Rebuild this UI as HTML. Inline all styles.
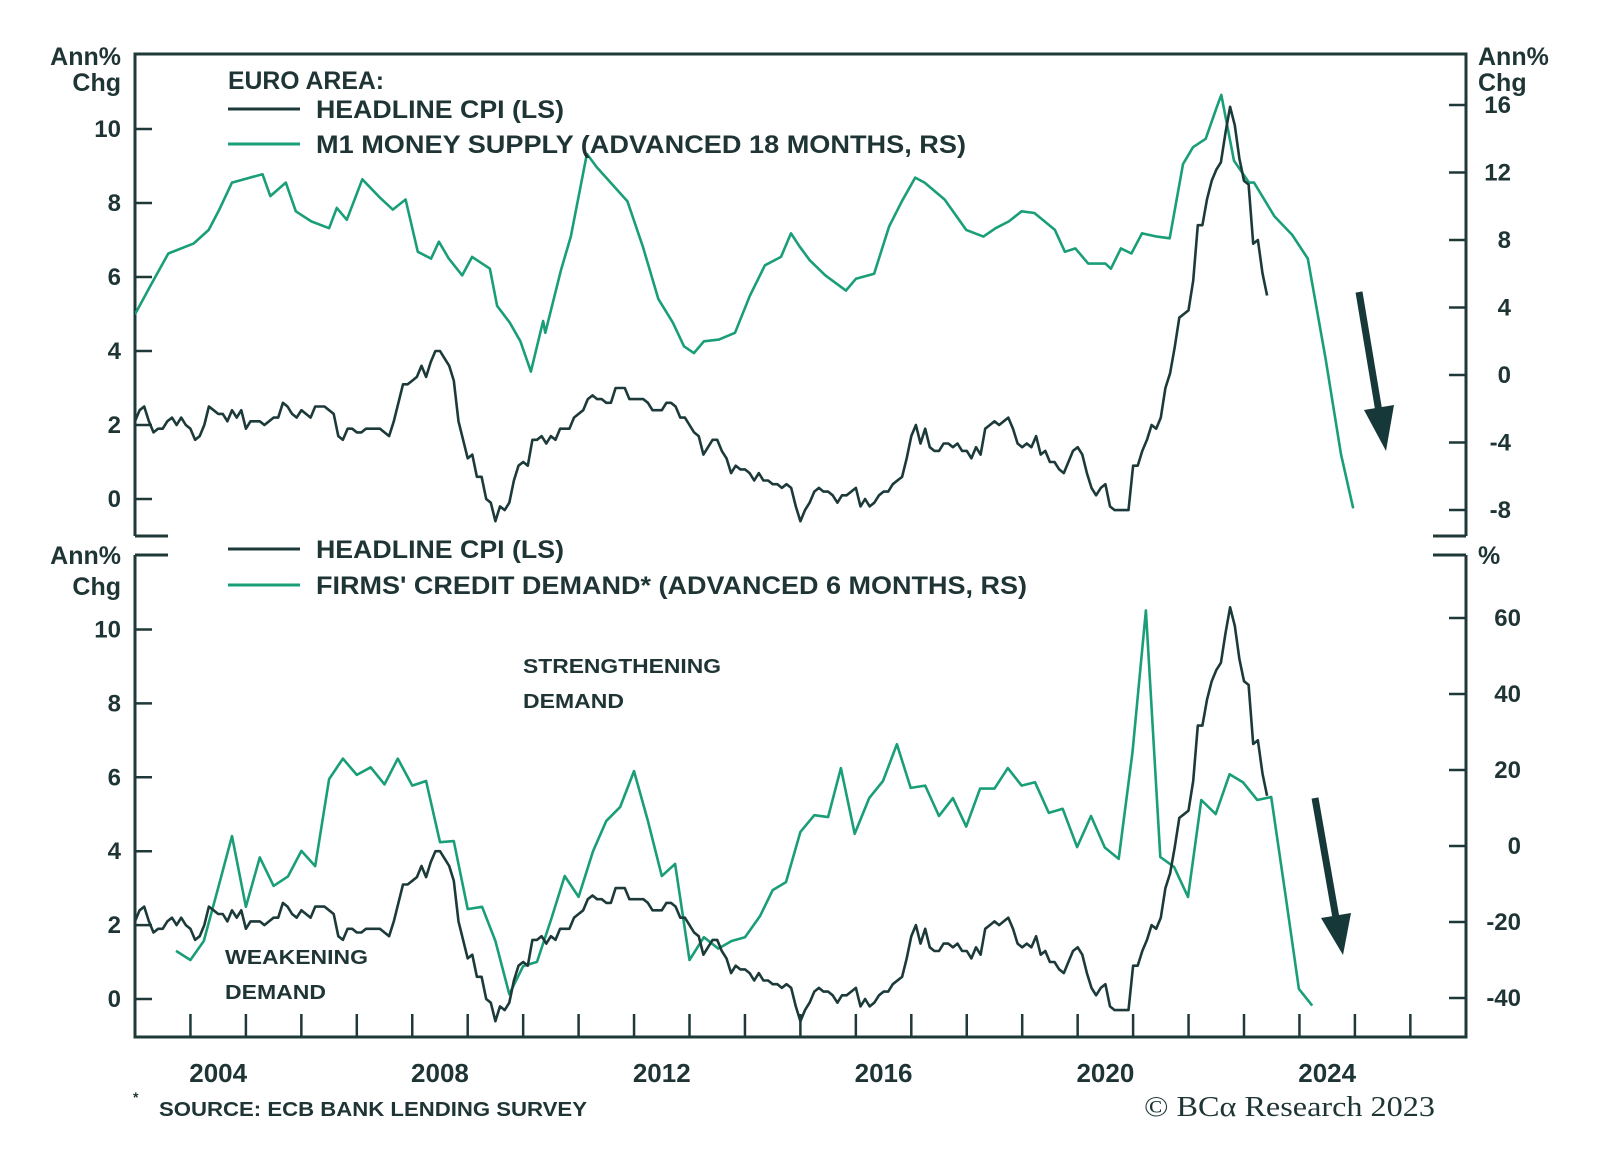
<!DOCTYPE html>
<html><head><meta charset="utf-8"><style>
html,body{margin:0;padding:0;background:#fff;}
svg{display:block;font-family:"Liberation Sans",sans-serif;}
</style></head><body>
<svg id="chart" width="1600" height="1163" viewBox="0 0 1600 1163">
<defs>
<clipPath id="clipTop"><rect x="135" y="54" width="1331" height="482"/></clipPath>
<clipPath id="clipBot"><rect x="135" y="555" width="1331" height="482"/></clipPath>
</defs>
<g id="axes" stroke="#1f3838" stroke-width="3" fill="none">
<polyline points="135,536 135,54 1466,54 1466,536"/>
<line x1="135" y1="536" x2="168" y2="536"/>
<line x1="1433" y1="536" x2="1466" y2="536"/>
<polyline points="135,555 135,1037 1466,1037 1466,555"/>
<line x1="135" y1="555" x2="168" y2="555"/>
<line x1="1433" y1="555" x2="1466" y2="555"/>
</g>
<g id="ticks" stroke="#1f3838" stroke-width="2.5"></g>
<g id="labels" fill="#1f3535" font-weight="bold"></g>
<g id="series"></g>
<g fill="#1f3535" font-weight="bold">
<text x="121" y="65" font-size="25" text-anchor="end">Ann%</text>
<text x="121" y="91" font-size="25" text-anchor="end">Chg</text>
<text x="1478" y="65" font-size="25">Ann%</text>
<text x="1478" y="91" font-size="25">Chg</text>
<text x="121" y="564" font-size="25" text-anchor="end">Ann%</text>
<text x="121" y="595" font-size="25" text-anchor="end">Chg</text>
<text x="1478" y="564" font-size="25">%</text>
<text x="228" y="89" font-size="25" textLength="156" lengthAdjust="spacingAndGlyphs">EURO AREA:</text>
<line x1="228" y1="109" x2="300" y2="109" stroke="#1c3a3a" stroke-width="3"/>
<text x="316" y="118" font-size="25" textLength="248" lengthAdjust="spacingAndGlyphs">HEADLINE CPI (LS)</text>
<line x1="228" y1="144" x2="300" y2="144" stroke="#1a9e78" stroke-width="3"/>
<text x="316" y="153" font-size="25" textLength="650" lengthAdjust="spacingAndGlyphs">M1 MONEY SUPPLY (ADVANCED 18 MONTHS, RS)</text>
<line x1="228" y1="549" x2="300" y2="549" stroke="#1c3a3a" stroke-width="3"/>
<text x="316" y="558" font-size="25" textLength="248" lengthAdjust="spacingAndGlyphs">HEADLINE CPI (LS)</text>
<line x1="228" y1="585" x2="300" y2="585" stroke="#1a9e78" stroke-width="3"/>
<text x="316" y="594" font-size="25" textLength="711" lengthAdjust="spacingAndGlyphs">FIRMS' CREDIT DEMAND* (ADVANCED 6 MONTHS, RS)</text>
<text x="523" y="673" font-size="20" textLength="198" lengthAdjust="spacingAndGlyphs">STRENGTHENING</text>
<text x="523" y="708" font-size="20" textLength="101" lengthAdjust="spacingAndGlyphs">DEMAND</text>
<text x="225" y="964" font-size="20" textLength="143" lengthAdjust="spacingAndGlyphs">WEAKENING</text>
<text x="225" y="999" font-size="20" textLength="101" lengthAdjust="spacingAndGlyphs">DEMAND</text>
<text x="133" y="1102" font-size="14">*</text>
<text x="159" y="1116" font-size="20" textLength="428" lengthAdjust="spacingAndGlyphs">SOURCE: ECB BANK LENDING SURVEY</text>
</g>
<text x="1144" y="1116" font-size="29" font-family="Liberation Serif, serif" fill="#1f3535" textLength="291" lengthAdjust="spacingAndGlyphs">© BCα Research 2023</text>
<g fill="#173838" stroke="#173838">
<line x1="1359" y1="292" x2="1379" y2="412" stroke-width="7"/>
<polygon points="1364,410 1394,405 1386,451" stroke="none"/>
<line x1="1315" y1="798" x2="1336" y2="918" stroke-width="7"/>
<polygon points="1321,918 1351,913 1343,955" stroke="none"/>
</g>
</svg>
<script>
const cpiStartYear = 2003;
const cpiValues = [
2.1,2.4,2.5,2.1,1.8,1.9,1.9,2.1,2.2,2.0,2.2,2.0,
1.9,1.6,1.7,2.0,2.5,2.4,2.3,2.3,2.1,2.4,2.2,2.4,
1.9,2.1,2.1,2.1,2.0,2.1,2.2,2.2,2.6,2.5,2.3,2.2,
2.4,2.3,2.2,2.5,2.5,2.5,2.4,2.3,1.7,1.6,1.9,1.9,
1.8,1.8,1.9,1.9,1.9,1.9,1.8,1.7,2.1,2.6,3.1,3.1,
3.2,3.3,3.6,3.3,3.7,4.0,4.0,3.8,3.6,3.2,2.1,1.6,
1.1,1.2,0.6,0.6,0.0,-0.1,-0.6,-0.2,-0.3,-0.1,0.5,0.9,
1.0,0.9,1.6,1.6,1.7,1.5,1.7,1.6,1.9,1.9,1.9,2.2,
2.3,2.4,2.7,2.8,2.7,2.7,2.6,2.6,3.0,3.0,3.0,2.7,
2.7,2.7,2.7,2.6,2.4,2.4,2.4,2.6,2.6,2.5,2.2,2.2,
2.0,1.8,1.7,1.2,1.4,1.6,1.6,1.3,1.1,0.7,0.9,0.8,
0.8,0.7,0.5,0.7,0.5,0.5,0.4,0.4,0.3,0.4,0.3,-0.2,
-0.6,-0.3,-0.1,0.2,0.3,0.2,0.2,0.1,-0.1,0.1,0.1,0.2,
0.3,-0.2,0.0,-0.2,-0.1,0.1,0.2,0.2,0.4,0.5,0.6,1.1,
1.7,2.0,1.5,1.9,1.4,1.3,1.3,1.5,1.5,1.4,1.5,1.3,
1.3,1.1,1.4,1.2,1.9,2.0,2.1,2.0,2.1,2.2,1.9,1.5,
1.4,1.5,1.4,1.7,1.2,1.3,1.0,1.0,0.8,0.7,1.0,1.3,
1.4,1.2,0.7,0.3,0.1,0.3,0.4,-0.2,-0.3,-0.3,-0.3,-0.3,
0.9,0.9,1.3,1.6,2.0,1.9,2.2,3.0,3.4,4.1,4.9,5.0,
5.1,5.9,7.4,7.4,8.1,8.6,8.9,9.1,9.9,10.6,10.1,9.2,
8.6,8.5,6.9,7.0,6.1,5.5];
const m1Dates = [2003.0,2003.28,2003.6,2004.06,2004.33,2004.52,2004.75,2005.3,2005.44,2005.72,2005.9,2006.18,2006.5,2006.64,2006.82,2007.1,2007.42,2007.65,2007.88,2008.1,2008.34,2008.48,2008.66,2008.9,2009.08,2009.4,2009.53,2009.76,2009.95,2010.14,2010.36,2010.4,2010.68,2010.86,2011.15,2011.33,2011.88,2012.16,2012.44,2012.7,2012.9,2013.08,2013.26,2013.53,2013.82,2014.09,2014.36,2014.65,2014.83,2014.99,2015.17,2015.45,2015.82,2016.0,2016.33,2016.6,2016.83,2017.07,2017.24,2017.6,2017.99,2018.3,2018.52,2018.76,2018.99,2019.22,2019.59,2019.77,2019.96,2020.19,2020.5,2020.6,2020.78,2020.97,2021.16,2021.43,2021.66,2021.9,2022.08,2022.31,2022.5,2022.59,2022.82,2023.09,2023.18,2023.55,2023.87,2024.15,2024.47,2024.75,2024.97];
const m1Values = [3.6,5.3,7.2,7.8,8.6,9.8,11.4,11.9,10.6,11.4,9.7,9.1,8.7,9.9,9.2,11.6,10.5,9.8,10.4,7.3,6.9,7.9,6.9,5.9,7.0,6.3,4.1,3.1,2.0,0.2,3.2,2.5,6.2,8.2,13.1,12.3,10.3,7.6,4.5,3.1,1.7,1.3,2.0,2.1,2.5,4.7,6.5,7.0,8.4,7.6,6.8,5.9,5.0,5.7,6.0,8.8,10.3,11.7,11.4,10.4,8.6,8.2,8.7,9.1,9.7,9.6,8.6,7.3,7.5,6.6,6.6,6.3,7.5,7.2,8.4,8.2,8.1,12.5,13.5,14.0,15.8,16.6,12.7,11.4,11.4,9.4,8.3,6.9,1.0,-4.7,-7.9];
const creditDates = [2003.74,2004.0,2004.24,2004.5,2004.75,2005.0,2005.25,2005.5,2005.76,2006.0,2006.25,2006.5,2006.75,2007.0,2007.25,2007.5,2007.74,2008.0,2008.25,2008.5,2008.75,2009.0,2009.26,2009.5,2009.75,2010.0,2010.25,2010.5,2010.75,2011.0,2011.26,2011.5,2011.75,2012.0,2012.25,2012.5,2012.74,2013.0,2013.26,2013.52,2013.76,2014.0,2014.27,2014.5,2014.74,2015.0,2015.25,2015.5,2015.73,2015.98,2016.24,2016.49,2016.74,2016.99,2017.25,2017.5,2017.75,2017.99,2018.24,2018.5,2018.74,2018.99,2019.23,2019.48,2019.73,2019.99,2020.24,2020.49,2020.74,2020.99,2021.23,2021.49,2021.74,2021.99,2022.23,2022.49,2022.74,2022.98,2023.24,2023.49,2023.74,2023.99,2024.23];
const creditValues = [-27.6,-30,-25,-11,2.6,-16,-3,-10.5,-8,-1.3,-5.3,17.6,23,18.7,20.7,16.2,23,15.9,17.1,1.0,1.3,-16.6,-16,-25,-39,-31.6,-30.5,-19.5,-7.9,-13.4,-1.4,6.6,10.3,19.7,6.6,-7.9,-4.7,-30,-24,-27,-25,-24,-18.5,-11.6,-9.5,3.7,8.1,7.6,20.5,3.2,12.6,17.1,26.8,15.3,15.9,7.9,12.6,5.1,15.1,15.1,20.5,15.9,16.8,8.7,9.8,-0.3,7.9,-0.4,-3.4,24.7,62,-2.9,-5.5,-13.4,12.1,8.4,18.9,16.8,12.1,12.9,-12,-37.6,-42];
const leftTicks = [0,2,4,6,8,10];
const topRightTicks = [16,12,8,4,0,-4,-8];
const botRightTicks = [60,40,20,0,-20,-40];
const yearTicks = [2004,2005,2006,2007,2008,2009,2010,2011,2012,2013,2014,2015,2016,2017,2018,2019,2020,2021,2022,2023,2024,2025,2026];
const yearLabels = [2004,2008,2012,2016,2020,2024];

const NS = 'http://www.w3.org/2000/svg';
const xT = t => 135 + (t - 2003) * 55.45;
const yLTop = v => 499 - v * 37;
const yLBot = v => 999 - v * 36.95;
const yRTop = v => 375 - v * 16.875;
const yRBot = v => 846 - v * 3.8;

function mk(tag, attrs, parent) {
  const e = document.createElementNS(NS, tag);
  for (const k in attrs) e.setAttribute(k, attrs[k]);
  parent.appendChild(e);
  return e;
}
const ticksG = document.getElementById('ticks');
const labelsG = document.getElementById('labels');
const seriesG = document.getElementById('series');

leftTicks.forEach(v => {
  let l = mk('line', {x1:135, x2:152, y1:yLTop(v), y2:yLTop(v)}, ticksG);
  
  
  let t = mk('text', {x:121, y:yLTop(v)+8, 'font-size':24, 'text-anchor':'end'}, labelsG);
  t.textContent = v;
  
  
  l = mk('line', {x1:135, x2:152, y1:yLBot(v), y2:yLBot(v)}, ticksG);
  
  
  t = mk('text', {x:121, y:yLBot(v)+8, 'font-size':24, 'text-anchor':'end'}, labelsG);
  t.textContent = v;
  
  
});
topRightTicks.forEach(v => {
  const l = mk('line', {x1:1449, x2:1466, y1:yRTop(v), y2:yRTop(v)}, ticksG);
  
  
  const t = mk('text', {x:1511, y:yRTop(v)+8, 'font-size':24, 'text-anchor':'end'}, labelsG);
  t.textContent = v;
  
  
});
botRightTicks.forEach(v => {
  const l = mk('line', {x1:1449, x2:1466, y1:yRBot(v), y2:yRBot(v)}, ticksG);
  
  
  const t = mk('text', {x:1521, y:yRBot(v)+8, 'font-size':24, 'text-anchor':'end'}, labelsG);
  t.textContent = v;
  
  
});
yearTicks.forEach(y => {
  const l = mk('line', {x1:xT(y), x2:xT(y), y1:1037, y2:1014}, ticksG);
  
  
});
yearLabels.forEach(y => {
  const t = mk('text', {x:xT(y+0.5), y:1082, 'font-size':26, 'text-anchor':'middle'}, labelsG);
  t.textContent = y;
  
  
});

function line(dates, vals, yf, color, clip, name) {
  const pts = vals.map((v, i) => xT(dates[i]).toFixed(1) + ',' + yf(v).toFixed(1)).join(' ');
  const p = mk('polyline', {points:pts, fill:'none', stroke:color, 'stroke-width':2.6, 'stroke-linejoin':'round', 'clip-path':'url(#' + clip + ')'}, seriesG);
  
  
}
const cpiDates = cpiValues.map((v, i) => cpiStartYear + i / 12);
line(m1Dates, m1Values, yRTop, '#1a9e78', 'clipTop', 'm1-money-supply-line');
line(cpiDates, cpiValues, yLTop, '#1c3a3a', 'clipTop', 'cpi-line-top');
line(creditDates, creditValues, yRBot, '#1a9e78', 'clipBot', 'credit-demand-line');
line(cpiDates, cpiValues, yLBot, '#1c3a3a', 'clipBot', 'cpi-line-bottom');
</script>
</body></html>
